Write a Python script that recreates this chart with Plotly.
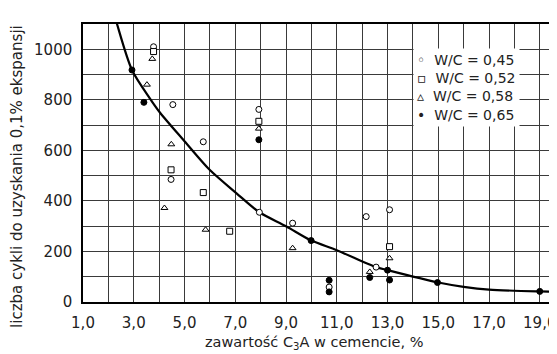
import plotly.graph_objects as go

# W/C = 0,45 (open circles)
x_045 = [3.78, 4.54, 5.74, 7.93, 4.47, 7.95, 9.26, 12.16, 13.08, 12.55, 10.7]
y_045 = [1010, 781, 634, 762, 485, 355, 312, 338, 365, 138, 59]
# W/C = 0,52 (open squares)
x_052 = [3.78, 4.47, 5.74, 6.78, 7.93, 13.08]
y_052 = [991, 523, 433, 280, 715, 219]
# W/C = 0,58 (open triangles)
x_058 = [3.73, 3.52, 4.48, 4.21, 5.83, 7.93, 9.26, 12.3, 13.08]
y_058 = [962, 860, 624, 372, 286, 686, 213, 119, 173]
# W/C = 0,65 (filled circles)
x_065 = [2.93, 3.40, 7.93, 9.99, 10.7, 10.7, 12.3, 13.08, 13.0, 14.97, 19.0]
y_065 = [918, 790, 642, 243, 86, 40, 97, 87, 126, 77, 42]

# trend curve
x_curve = [2.2, 2.34, 2.93, 3.64, 4.03, 4.95, 5.99, 7.04, 7.95, 9.0, 10.0, 11.0, 12.55, 13.0, 15.0, 16.0, 17.0, 19.0, 19.6]
y_curve = [1150, 1100, 918, 805, 750, 642, 523, 431, 355, 300, 243, 205, 138, 126, 77, 60, 49, 42, 41]

x_tickvals = [1, 3, 5, 7, 9, 11, 13, 15, 17, 19]
x_ticktext = ["1,0", "3,0", "5,0", "7,0", "9,0", "11,0", "13,0", "15,0", "17,0", "19,0"]
y_tickvals = [0, 200, 400, 600, 800, 1000]
y_ticktext = ["0", "200", "400", "600", "800", "1000"]

series_names = ["W/C = 0,45", "W/C = 0,52", "W/C = 0,58", "W/C = 0,65"]
legend_glyphs = ["◦", "▫", "▵", "•"]

FONT = "DejaVu Sans"

fig = go.Figure()
fig.add_trace(go.Scatter(x=x_curve, y=y_curve, mode="lines",
                         line=dict(color="black", width=2.2, shape="spline", smoothing=0.8),
                         showlegend=False, hoverinfo="skip"))
fig.add_trace(go.Scatter(x=x_045, y=y_045, mode="markers", name=series_names[0],
                         marker=dict(symbol="circle", size=6, color="white",
                                     line=dict(color="black", width=1))))
fig.add_trace(go.Scatter(x=x_052, y=y_052, mode="markers", name=series_names[1],
                         marker=dict(symbol="square", size=6, color="white",
                                     line=dict(color="black", width=1))))
fig.add_trace(go.Scatter(x=x_058, y=y_058, mode="markers", name=series_names[2],
                         marker=dict(symbol="triangle-up", size=6, color="white",
                                     line=dict(color="black", width=1))))
fig.add_trace(go.Scatter(x=x_065, y=y_065, mode="markers", name=series_names[3],
                         marker=dict(symbol="circle", size=6, color="black",
                                     line=dict(color="black", width=1))))

grid_c = "#3a3a3a"
fig.update_xaxes(range=[1, 19.6], tickvals=x_tickvals, ticktext=x_ticktext,
                 showgrid=True, gridcolor=grid_c, gridwidth=1.3,
                 minor=dict(dtick=1, tick0=0, showgrid=True, gridcolor=grid_c, gridwidth=1.3),
                 showline=True, linecolor="black", linewidth=1.5, mirror=True,
                 zeroline=False, ticks="", ticklabelstandoff=6,
                 tickfont=dict(family=FONT, size=15, color="#222"))
fig.update_yaxes(range=[0, 1100], tickvals=y_tickvals, ticktext=y_ticktext,
                 showgrid=True, gridcolor=grid_c, gridwidth=1.3,
                 minor=dict(dtick=100, tick0=0, showgrid=True, gridcolor=grid_c, gridwidth=1.3),
                 showline=True, linecolor="black", linewidth=1.5, mirror=True,
                 zeroline=False, ticks="", ticklabelstandoff=6,
                 tickfont=dict(family=FONT, size=15, color="#222"))

legend_text = "<br>".join(f"{g}  {n}" for g, n in zip(legend_glyphs, series_names))

# the page places the figure 8px from the top-left corner, so the figure is 8px smaller
fig.update_layout(
    width=549, height=346,
    margin=dict(l=75, r=0, t=16, b=52),
    plot_bgcolor="white", paper_bgcolor="white",
    font=dict(family=FONT, color="#222"),
    showlegend=False,
    annotations=[
        dict(text="zawartość C<sub>3</sub>A w cemencie, %", xref="paper", yref="paper",
             x=0.49, y=0, yshift=-41, xanchor="center", yanchor="middle",
             showarrow=False, font=dict(family=FONT, size=14.5, color="#222")),
        dict(text="liczba cykli do uzyskania 0,1% ekspansji", xref="paper", yref="paper",
             x=0, xshift=-66, y=0.45, textangle=-90, xanchor="center", yanchor="middle",
             showarrow=False, font=dict(family=FONT, size=15, color="#222")),
        dict(text=legend_text, xref="paper", yref="paper", x=0.70, y=0.912,
             xanchor="left", yanchor="top", align="left", showarrow=False,
             bgcolor="white", borderpad=3,
             font=dict(family=FONT, size=14, color="#222")),
    ],
)

fig.write_html("out.html")
